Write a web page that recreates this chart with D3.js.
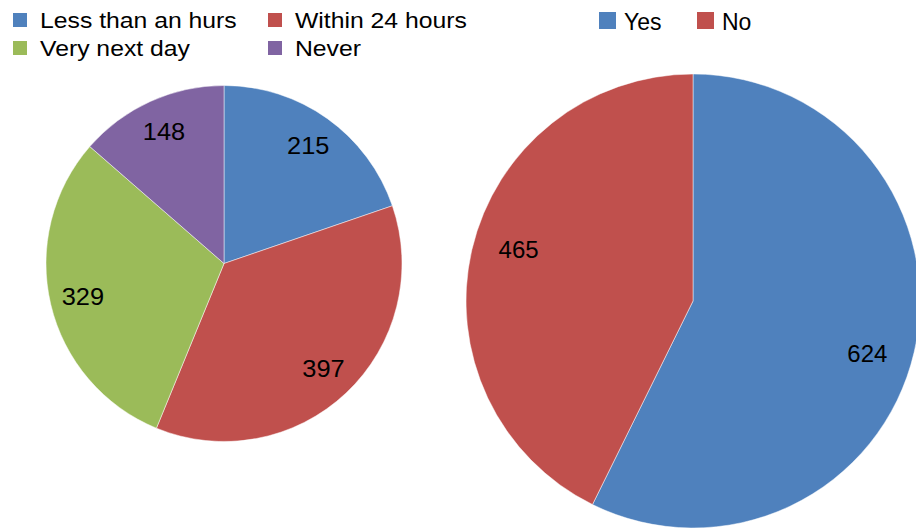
<!DOCTYPE html>
<html>
<head>
<meta charset="utf-8">
<script src="https://cdn.jsdelivr.net/npm/d3@7"></script>
<style>
html,body{margin:0;padding:0;background:#fff;overflow:hidden;}
text{font-family:"Liberation Sans",Arial,sans-serif;fill:#000;}
</style>
</head>
<body>
<svg id="chart" width="916" height="528"></svg>
<script>
// Left pie: response time
const timeCategories = ["Less than an hurs", "Within 24 hours", "Very next day", "Never"];
const timeValues = [215, 397, 329, 148];
const timeColors = ["#4F81BD", "#C0504D", "#9BBB59", "#8064A2"];

// Right pie: yes / no
const answerCategories = ["Yes", "No"];
const answerValues = [624, 465];
const answerColors = ["#4F81BD", "#C0504D"];

const svg = d3.select("#chart");

function drawPie(cfg) {
  const data = cfg.categories.map((c, i) => ({ name: c, value: cfg.values[i] }));
  const pie = d3.pie().value(d => d.value).sort(null);
  const arc = d3.arc().innerRadius(0).outerRadius(cfg.r);
  const labelArc = d3.arc().innerRadius(cfg.labelR).outerRadius(cfg.labelR);
  const color = d3.scaleOrdinal().domain(cfg.categories).range(cfg.colors);
  const g = svg.append("g").attr("transform", `translate(${cfg.cx},${cfg.cy})`);
  const arcs = pie(data);
  g.selectAll("path").data(arcs).join("path")
    .attr("d", arc)
    .attr("fill", d => color(d.data.name))
    .attr("stroke", "rgba(255,255,255,0.6)")
    .attr("stroke-width", 0.8);
  const shift = (cfg.labelShiftDeg || 0) * Math.PI / 180;
  g.selectAll("text").data(arcs).join("text")
    .attr("transform", d => {
      const [x, y] = labelArc.centroid({ startAngle: d.startAngle + shift, endAngle: d.endAngle + shift });
      return `translate(${x},${y}) scale(${cfg.labelSX},1)`;
    })
    .attr("text-anchor", "middle")
    .attr("dy", "0.36em")
    .style("font-size", cfg.labelSize + "px")
    .text(d => d.data.value);
}

drawPie({ categories: timeCategories, values: timeValues, colors: timeColors,
  cx: 224, cy: 263.5, r: 178, labelR: 145, labelSize: 23.5, labelSX: 1.08 });
drawPie({ categories: answerCategories, values: answerValues, colors: answerColors,
  cx: 693, cy: 301, r: 227, labelR: 182, labelSize: 24, labelSX: 1, labelShiftDeg: 3.5 });

// Left legend (2 columns x 2 rows)
const leftLegendPos = [[13, 13], [268, 13], [13, 41], [268, 41]];
const lg = svg.append("g");
timeCategories.forEach((c, i) => {
  const [x, y] = leftLegendPos[i];
  lg.append("rect").attr("x", x).attr("y", y).attr("width", 14).attr("height", 14).attr("fill", timeColors[i]);
  lg.append("text")
    .attr("transform", `translate(${x + 27},${y + 14.5}) scale(1.1,1)`)
    .style("font-size", "22.5px")
    .text(c);
});

// Right legend
const rightLegendPos = [[599, 12], [697, 12]];
const rg = svg.append("g");
answerCategories.forEach((c, i) => {
  const [x, y] = rightLegendPos[i];
  rg.append("rect").attr("x", x).attr("y", y).attr("width", 17).attr("height", 17).attr("fill", answerColors[i]);
  rg.append("text")
    .attr("x", x + 25).attr("y", y + 18)
    .style("font-size", "23px")
    .text(c);
});
</script>
</body>
</html>
